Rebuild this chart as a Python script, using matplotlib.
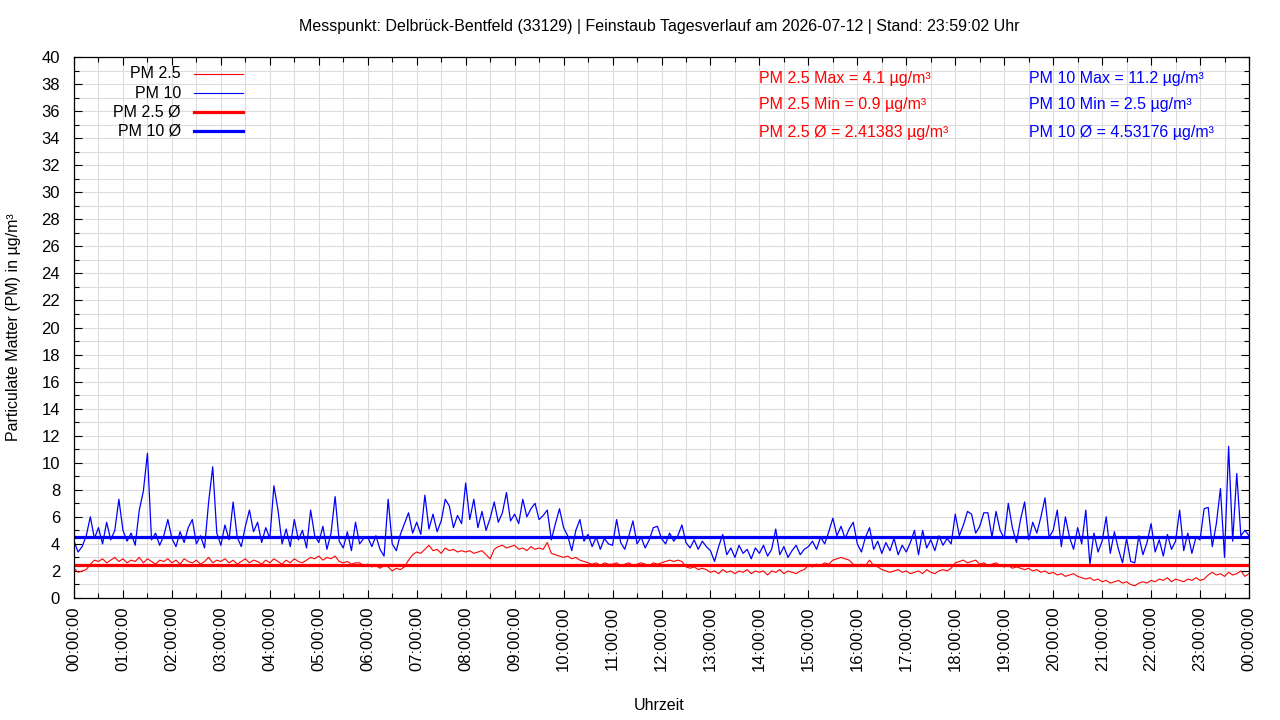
import numpy as np
import matplotlib
matplotlib.use('Agg')
import matplotlib.pyplot as plt
from matplotlib.ticker import MultipleLocator

plt.rcParams['font.family'] = ['Liberation Sans', 'DejaVu Sans']

# PM10 values every 5 minutes, one row per hour (00:00 .. 23:55), plus 24:00
pm10 = [
    4.2, 3.4, 3.8, 4.6, 6.0, 4.4, 5.2, 4.0, 5.6, 4.3, 5.0, 7.3,
    5.0, 4.2, 4.8, 3.9, 6.5, 7.9, 10.7, 4.3, 4.8, 3.9, 4.6, 5.8,
    4.4, 3.8, 4.9, 4.1, 5.2, 5.8, 4.0, 4.6, 3.7, 7.1, 9.7, 4.8,
    3.9, 5.4, 4.3, 7.1, 4.5, 3.8, 5.3, 6.5, 4.9, 5.6, 4.1, 5.2,
    4.4, 8.3, 6.5, 4.0, 5.1, 3.8, 5.8, 4.3, 5.0, 3.7, 6.5, 4.6,
    4.1, 5.3, 3.6, 4.8, 7.5, 4.2, 3.7, 4.9, 3.5, 5.6, 4.0, 4.4,
    4.5, 3.8, 4.6, 3.6, 3.1, 7.3, 4.0, 3.5, 4.7, 5.5, 6.3, 4.8,
    5.6, 4.7, 7.6, 5.1, 6.2, 4.9, 5.7, 7.3, 6.8, 5.2, 6.1, 5.5,
    8.5, 5.8, 7.3, 5.2, 6.4, 5.0, 5.9, 7.1, 5.6, 6.3, 7.8, 5.7,
    6.2, 5.5, 7.3, 6.0, 6.6, 7.0, 5.8, 6.1, 6.5, 4.3, 5.5, 6.6,
    5.2, 4.6, 3.5, 5.0, 5.8, 4.2, 4.7, 3.8, 4.5, 3.6, 4.4, 4.0,
    3.9, 5.8, 4.1, 3.6, 4.6, 5.7, 4.0, 4.5, 3.7, 4.3, 5.2, 5.3,
    4.4, 4.0, 4.8, 4.2, 4.6, 5.4, 4.1, 3.7, 4.3, 3.6, 4.2, 3.8,
    3.5, 2.7, 3.8, 4.7, 3.2, 3.7, 3.0, 3.9, 3.3, 3.6, 2.9, 3.7,
    3.3, 3.9, 3.1, 3.6, 5.1, 3.2, 3.8, 3.0, 3.5, 3.9, 3.2, 3.6,
    3.8, 4.2, 3.6, 4.5, 4.0, 4.9, 5.9, 4.6, 5.3, 4.4, 5.1, 5.6,
    4.0, 3.4, 4.5, 5.2, 3.6, 4.2, 3.3, 4.1, 3.5, 4.4, 3.2, 3.9,
    3.4, 4.1, 5.0, 3.2, 5.0, 3.7, 4.3, 3.5, 4.6, 3.9, 4.4, 4.0,
    6.2, 4.6, 5.4, 6.4, 6.2, 4.8, 5.3, 6.3, 6.3, 4.5, 6.4, 5.0,
    4.4, 7.0, 5.2, 4.1, 5.8, 7.1, 4.3, 5.6, 4.8, 6.0, 7.4, 4.5,
    5.0, 6.5, 3.8, 6.0, 4.5, 3.6, 5.2, 4.0, 6.5, 2.5, 4.8, 3.4,
    4.2, 6.0, 3.3, 4.9, 3.6, 2.6, 4.4, 2.7, 2.6, 4.6, 3.2, 4.1,
    5.5, 3.4, 4.3, 3.1, 4.7, 3.6, 4.2, 6.5, 3.5, 4.8, 3.3, 4.5,
    4.3, 6.6, 6.7, 3.8, 5.5, 8.1, 3.0, 11.2, 4.2, 9.2, 4.6, 5.0,
    4.6,
]

# PM2.5 values every 5 minutes
pm25 = [
    2.2, 1.9, 2.0, 2.1, 2.5, 2.8, 2.7, 2.9, 2.6, 2.8, 3.0, 2.7,
    2.9, 2.6, 2.8, 2.7, 3.0, 2.6, 2.9, 2.7, 2.5, 2.8, 2.7, 2.9,
    2.6, 2.8, 2.5, 2.9, 2.7, 2.6, 2.8, 2.5, 2.7, 3.0, 2.6, 2.8,
    2.7, 2.9, 2.6, 2.8, 2.5, 2.7, 2.9, 2.6, 2.8, 2.7, 2.5, 2.8,
    2.6, 2.9, 2.7, 2.5, 2.8, 2.6, 2.9, 2.7, 2.6, 2.8, 3.0, 2.9,
    3.1, 2.8, 3.0, 2.9, 3.1, 2.7, 2.6, 2.7, 2.5, 2.6, 2.6, 2.4,
    2.5, 2.3, 2.4, 2.2, 2.4, 2.3, 2.0, 2.2, 2.1, 2.3, 2.8, 3.2,
    3.4, 3.3, 3.6, 3.9, 3.5, 3.6, 3.3, 3.7, 3.5, 3.6, 3.4, 3.5,
    3.4, 3.5, 3.3, 3.4, 3.5, 3.2, 2.9, 3.6, 3.8, 3.9, 3.7, 3.8,
    3.9, 3.6, 3.7, 3.5, 3.8, 3.6, 3.7, 3.6, 4.1, 3.3, 3.2, 3.1,
    3.0, 3.1, 2.9, 3.0, 2.8, 2.7, 2.6, 2.5, 2.6, 2.4, 2.6, 2.5,
    2.5, 2.6, 2.4, 2.5, 2.6, 2.4, 2.5, 2.6, 2.5, 2.4, 2.6, 2.5,
    2.6, 2.7, 2.8, 2.7, 2.8, 2.7, 2.3, 2.2, 2.3, 2.1, 2.2, 2.1,
    1.9, 2.0, 1.8, 2.1, 1.9, 2.0, 1.8, 2.0, 1.9, 2.1, 1.8, 2.0,
    1.9, 2.0, 1.7, 2.0, 1.9, 2.1, 1.8, 2.0, 1.9, 1.8, 2.0, 2.1,
    2.4, 2.3, 2.5, 2.4, 2.6, 2.5, 2.8, 2.9, 3.0, 2.9, 2.8, 2.5,
    2.4, 2.5, 2.4, 2.8, 2.4, 2.3, 2.1, 2.0, 1.9, 2.0, 2.1, 1.9,
    2.0, 1.8, 1.9, 2.0, 1.8, 2.1, 1.9, 1.8, 2.0, 2.1, 2.0, 2.2,
    2.6, 2.7, 2.8, 2.6, 2.7, 2.8, 2.5, 2.6, 2.4, 2.5, 2.6, 2.4,
    2.3, 2.4, 2.2, 2.3, 2.2, 2.1, 2.2, 2.0, 2.1, 1.9, 2.0, 1.8,
    1.9, 1.7, 1.8, 1.6, 1.7, 1.8, 1.6, 1.5, 1.4, 1.5, 1.3, 1.4,
    1.2, 1.3, 1.1, 1.2, 1.3, 1.1, 1.2, 1.0, 0.9, 1.1, 1.2, 1.1,
    1.3, 1.2, 1.4, 1.3, 1.5, 1.2, 1.4, 1.3, 1.2, 1.4, 1.3, 1.5,
    1.3, 1.4, 1.7, 1.9, 1.7, 1.8, 1.6, 1.9, 1.7, 1.8, 2.0, 1.6,
    1.8,
]

pm25_avg = 2.41383
pm10_avg = 4.53176
pm25_max, pm25_min = 4.1, 0.9
pm10_max, pm10_min = 11.2, 2.5

hours = np.arange(len(pm10)) * 5 / 60.0
hour_ticks = list(range(0, 25))
hour_labels = ['%02d:00:00' % (h % 24) for h in hour_ticks]

title = ('Messpunkt: Delbrück-Bentfeld (33129) | Feinstaub Tagesverlauf am '
         '2026-07-12 | Stand: 23:59:02 Uhr')

fig = plt.figure(figsize=(12.8, 7.2), dpi=100)
ax = fig.add_axes([74 / 1280, 1 - 598 / 720, 1175 / 1280, 541 / 720])

# grid
ax.set_xlim(0, 24)
ax.set_ylim(0, 40)
ax.xaxis.set_major_locator(MultipleLocator(1))
ax.xaxis.set_minor_locator(MultipleLocator(0.5))
ax.yaxis.set_major_locator(MultipleLocator(2))
ax.yaxis.set_minor_locator(MultipleLocator(1))
ax.grid(which='both', color='#dcdcdc', lw=0.8)
ax.set_axisbelow(True)

# data
ax.plot(hours, pm25, color='#ff0000', lw=0.8)
ax.plot(hours, pm10, color='#0000ff', lw=0.9)
ax.axhline(pm25_avg, color='#ff0000', lw=2.3)
ax.axhline(pm10_avg, color='#0000ff', lw=2.3)

# ticks like gnuplot: inward, mirrored
ax.tick_params(which='both', direction='in', top=True, right=True, labelsize=12)
ax.tick_params(which='major', length=6, width=0.8)
ax.tick_params(which='minor', length=3.5, width=0.8)
ax.tick_params(axis='y', pad=10)
ax.tick_params(axis='x', pad=6)
ax.set_xticks(hour_ticks)
ax.set_xticklabels(hour_labels, rotation=90)
for s in ax.spines.values():
    s.set_linewidth(0.9)

# legend, drawn gnuplot style (text right aligned, sample on the right)
legend_rows = [('PM 2.5', '#ff0000', 0.8), ('PM 10', '#0000ff', 0.8),
               ('PM 2.5 Ø', '#ff0000', 2.3), ('PM 10 Ø', '#0000ff', 2.3)]
for i, (lab, col, lw) in enumerate(legend_rows):
    yy = 1 - (74 + 19 * i - 57) / 541
    ax.text(0.091, yy, lab, transform=ax.transAxes, ha='right', va='center', fontsize=11.5)
    ax.plot([0.1021, 0.1438], [yy, yy], transform=ax.transAxes, color=col, lw=lw)

# statistics text
stats_red = ['PM 2.5 Max = %g µg/m³' % pm25_max,
             'PM 2.5 Min = %g µg/m³' % pm25_min,
             'PM 2.5 Ø = %g µg/m³' % pm25_avg]
stats_blue = ['PM 10 Max = %g µg/m³' % pm10_max,
              'PM 10 Min = %g µg/m³' % pm10_min,
              'PM 10 Ø = %g µg/m³' % pm10_avg]
for i in range(3):
    yy = 1 - (78 + 27 * i - 57) / 541
    ax.text(0.583, yy, stats_red[i], transform=ax.transAxes, color='#ff0000',
            ha='left', va='center', fontsize=11.5)
    ax.text(0.8128, yy, stats_blue[i], transform=ax.transAxes, color='#0000ff',
            ha='left', va='center', fontsize=11.5)

fig.text(659 / 1280, 1 - 27 / 720, title, ha='center', va='center', fontsize=11.5)
fig.text(14 / 1280, 1 - 327 / 720, 'Particulate Matter (PM) in µg/m³', rotation=90,
         ha='center', va='center', fontsize=11.5)
fig.text(659 / 1280, 1 - 705 / 720, 'Uhrzeit', ha='center', va='center', fontsize=11.5)

fig.savefig('out.png', dpi=100)
